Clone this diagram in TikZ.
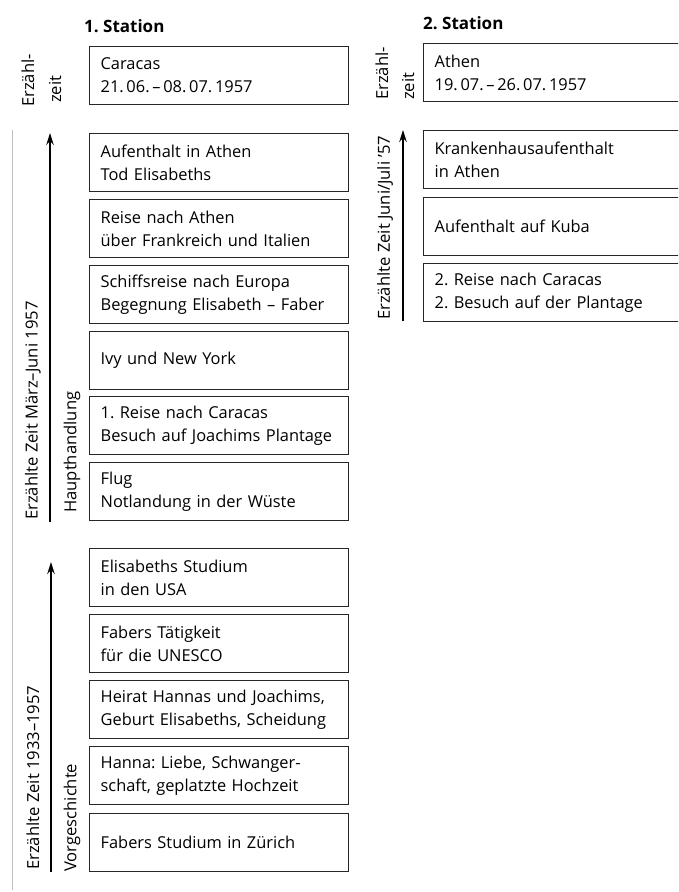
\documentclass[tikz,border=0pt]{standalone}
\usepackage{fontspec}
\setmainfont{Open Sans}
\frenchspacing
\usetikzlibrary{arrows.meta}
\tikzset{
  evbox/.style={draw=black!85, line width=1.3pt, anchor=north west, minimum height=58pt,
    text width=#1, align=left, inner xsep=11pt, inner ysep=2pt,
    font=\fontsize{16.4}{23}\selectfont},
  evbox/.default=237pt,
  rlab/.style={rotate=90, anchor=west, inner sep=0pt, font=\fontsize{16.6}{18}\selectfont},
  headtxt/.style={anchor=west, inner sep=0pt, font=\fontsize{17}{18}\selectfont\bfseries},
  timearrow/.style={line width=1.3pt, -{Stealth[length=12pt,width=7.5pt]}},
}
\begin{document}
\begin{tikzpicture}[x=1pt,y=-1pt]
\clip (0,0) rectangle (678,892);
\fill[white] (0,0) rectangle (678,892);
% faint page edge
\draw[black!25, line width=0.6pt] (12,130) -- (12,890);

% headings
\node[headtxt] (h1) at (84,26) {1. Station};
\node[headtxt] (h2) at (423,23) {2. Station};

% left column boxes
\node[evbox] (c1) at (89,46)  {Caracas\\21.\,06.\,–\,08.\,07.\,1957};
\node[evbox] (a1) at (89,133) {Aufenthalt in Athen\\Tod Elisabeths};
\node[evbox] (a2) at (89,199) {Reise nach Athen\\über Frankreich und Italien};
\node[evbox] (a3) at (89,265) {Schiffsreise nach Europa\\Begegnung Elisabeth – Faber};
\node[evbox] (a4) at (89,331) {Ivy und New York};
\node[evbox] (a5) at (89,396) {1. Reise nach Caracas\\Besuch auf Joachims Plantage};
\node[evbox] (a6) at (89,462) {Flug\\Notlandung in der Wüste};
\node[evbox] (v1) at (89,548) {Elisabeths Studium\\in den USA};
\node[evbox] (v2) at (89,614) {Fabers Tätigkeit\\für die UNESCO};
\node[evbox] (v3) at (89,680) {Heirat Hannas und Joachims,\\Geburt Elisabeths, Scheidung};
\node[evbox] (v4) at (89,746) {Hanna: Liebe, Schwanger-\\schaft, geplatzte Hochzeit};
\node[evbox] (v5) at (89,813) {Fabers Studium in Zürich};

% right column boxes
\node[evbox=260pt] (c2) at (423,43)  {Athen\\19.\,07.\,–\,26.\,07.\,1957};
\node[evbox=260pt] (b1) at (423,130) {Krankenhausaufenthalt\\in Athen};
\node[evbox=260pt] (b2) at (423,197) {Aufenthalt auf Kuba};
\node[evbox=260pt] (b3) at (423,263) {2. Reise nach Caracas\\2. Besuch auf der Plantage};

% left labels
\node[rlab] (ez1a) at (28,107) {Erzähl-};
\node[rlab] (ez1b) at (55,103) {zeit};
\node[rlab] (ez2a) at (382,100) {Erzähl-};
\node[rlab] (ez2b) at (408,100) {zeit};

\node[rlab] (t1) at (33,520) {Erzählte Zeit März–Juni 1957};
\node[rlab] (hh) at (72,513) {Haupthandlung};
\node[rlab] (t2) at (33,870) {Erzählte Zeit 1933–1957};
\node[rlab] (vg) at (72,872) {Vorgeschichte};
\node[rlab] (t3) at (385,320) {Erzählte Zeit Juni/Juli ’57};

% arrows
\coordinate (ar1s) at (50,522);
\coordinate (ar1e) at (50,133);
\coordinate (ar2s) at (51,872);
\coordinate (ar2e) at (51,562);
\coordinate (ar3s) at (403,321);
\coordinate (ar3e) at (403,130);
\draw[timearrow] (ar1s) -- (ar1e);
\draw[timearrow] (ar2s) -- (ar2e);
\draw[timearrow] (ar3s) -- (ar3e);
\end{tikzpicture}
\end{document}
